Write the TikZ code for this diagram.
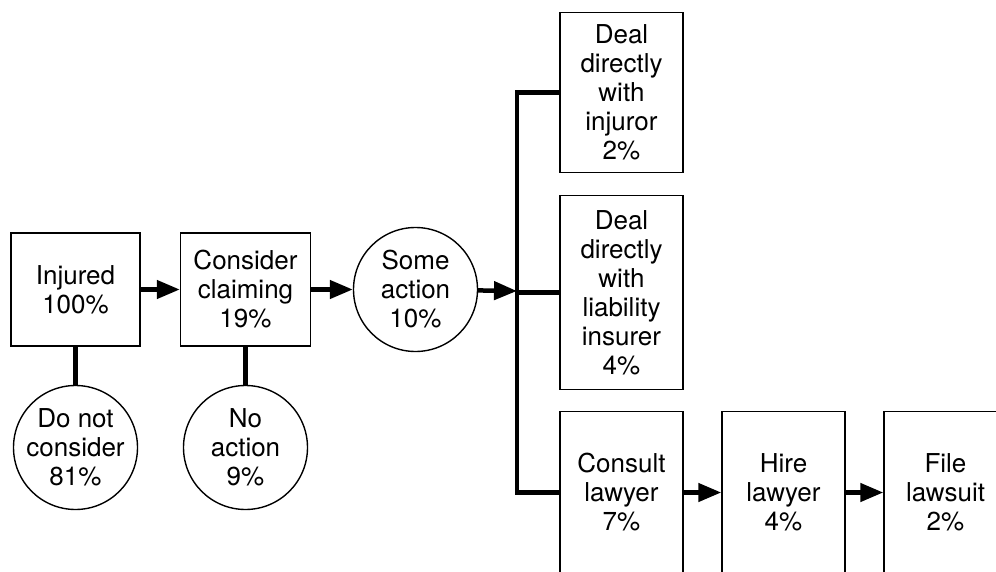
\documentclass[tikz,border=0pt]{standalone}
\usepackage{fontspec}
\setmainfont{TeX Gyre Heros}
\usetikzlibrary{arrows.meta}

\begin{document}
\begin{tikzpicture}[x=1pt, y=-1pt, node distance=170pt,
  every node/.style={font=\fontsize{26}{29}\selectfont, align=center},
  box/.style={rectangle, draw, line width=1.4pt, minimum width=123pt, inner sep=2pt},
  stage/.style={circle, draw, line width=1.4pt, minimum size=124pt, inner sep=-4pt},
  flow/.style={line width=4.5pt, -{Triangle[length=23pt,width=18pt]}},
  link/.style={line width=4.5pt}]
  \useasboundingbox (0,0) rectangle (996,572);
  \clip (0,0) rectangle (996,572);
  \node (injured) [box, minimum width=129pt, minimum height=113pt] at (75.5,289.5) {Injured\\100\%};
  \node (consider) [box, minimum width=130pt, minimum height=113pt, right of=injured] {Consider\\claiming\\19\%};
  \node (someaction) [stage, right of=consider] {Some\\action\\10\%};
  \node (notconsider) [stage, below of=injured, yshift=12pt] {Do not\\consider\\81\%};
  \node (noaction) [stage, below of=consider, yshift=12pt] {No\\action\\9\%};
  \node (liability) [box, minimum height=194pt, right of=someaction, xshift=36pt, yshift=-3pt] {Deal\\directly\\with\\liability\\insurer\\4\%};
  \node (injuror) [box, minimum height=160pt, above of=liability, yshift=30pt] {Deal\\directly\\with\\injuror\\2\%};
  \node (consult) [box, minimum height=162pt, below of=liability, yshift=-30pt] {Consult\\lawyer\\7\%};
  \node (hire) [box, minimum height=162pt, right of=consult, xshift=-8pt] {Hire\\lawyer\\4\%};
  \node (lawsuit) [box, minimum height=162pt, right of=hire, xshift=-8pt] {File\\lawsuit\\2\%};
  \coordinate (fork) at (517,291);
  \draw[flow] (injured) -- (consider);
  \draw[flow] (consider) -- (someaction);
  \draw[flow] (someaction) -- (fork);
  \draw[link] (injured) -- (notconsider);
  \draw[link] (consider) -- (noaction);
  \draw[link] (injuror.west) -- (fork |- injuror.west) -- (fork |- consult.west) -- (consult.west);
  \draw[link] (fork |- liability.west) -- (liability.west);
  \draw[flow] (consult) -- (hire);
  \draw[flow] (hire) -- (lawsuit);
\end{tikzpicture}
\end{document}
